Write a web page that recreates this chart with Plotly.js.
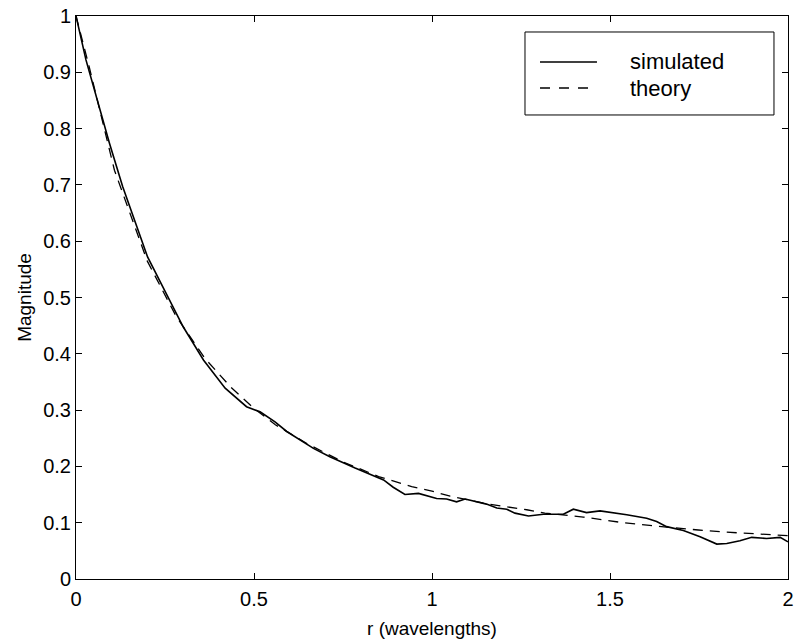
<!DOCTYPE html>
<html>
<head>
<meta charset="utf-8">
<script src="https://cdn.plot.ly/plotly-3.0.1.min.js"></script>
<style>html,body{margin:0;padding:0;background:#fff;}#chart{width:799px;height:642px;}</style>
</head>
<body>
<div id="chart"></div>
<script>
// Simulated magnitude vs r (wavelengths)
const simR = [0, 0.028, 0.094, 0.131, 0.201, 0.278, 0.301, 0.358, 0.419, 0.479, 0.517, 0.559, 0.592, 0.667, 0.713, 0.784, 0.835, 0.864, 0.891, 0.924, 0.962, 1.013, 1.041, 1.069, 1.093, 1.116, 1.153, 1.182, 1.210, 1.233, 1.271, 1.313, 1.369, 1.397, 1.434, 1.472, 1.509, 1.547, 1.603, 1.631, 1.659, 1.706, 1.753, 1.800, 1.828, 1.865, 1.898, 1.940, 1.978, 2.0];
const simV = [1.0, 0.922, 0.774, 0.697, 0.572, 0.478, 0.448, 0.389, 0.339, 0.306, 0.297, 0.279, 0.262, 0.232, 0.217, 0.197, 0.183, 0.176, 0.163, 0.150, 0.152, 0.143, 0.142, 0.137, 0.142, 0.139, 0.133, 0.126, 0.124, 0.117, 0.112, 0.115, 0.115, 0.124, 0.118, 0.121, 0.118, 0.114, 0.108, 0.102, 0.093, 0.086, 0.075, 0.062, 0.063, 0.068, 0.074, 0.072, 0.074, 0.066];
// Theory curve
const thR = [0, 0.037, 0.108, 0.2, 0.28, 0.362, 0.433, 0.5, 0.56, 0.65, 0.75, 0.85, 0.943, 1.0, 1.051, 1.158, 1.266, 1.317, 1.425, 1.537, 1.645, 1.748, 1.86, 1.968, 2.0];
const thV = [1, 0.91, 0.726, 0.565, 0.468, 0.392, 0.342, 0.303, 0.274, 0.24, 0.208, 0.182, 0.164, 0.156, 0.147, 0.133, 0.123, 0.117, 0.110, 0.100, 0.093, 0.087, 0.082, 0.078, 0.077];
const xTicks = [0, 0.5, 1, 1.5, 2];
const xTickText = ['0', '0.5', '1', '1.5', '2'];
const yTicks = [0, 0.1, 0.2, 0.3, 0.4, 0.5, 0.6, 0.7, 0.8, 0.9, 1];
const yTickText = ['0', '0.1', '0.2', '0.3', '0.4', '0.5', '0.6', '0.7', '0.8', '0.9', '1'];
const seriesNames = ['simulated', 'theory'];

const fam = 'Liberation Sans, Arial, Helvetica, sans-serif';
const tickFont = {family: fam, size: 20, color: '#000'};
const titleFont = {family: fam, size: 19, color: '#000'};
const legendFont = {family: fam, size: 22, color: '#000'};

const simLine = {color: '#000', width: 1.6};
const thLine = {color: '#000', width: 1.3, dash: '10px,7px'};

const traces = [
  {x: simR, y: simV, type: 'scatter', mode: 'lines', name: seriesNames[0], line: simLine, showlegend: false},
  {x: thR, y: thV, type: 'scatter', mode: 'lines', name: seriesNames[1], line: thLine, showlegend: false}
];

function axis(extra) {
  return Object.assign({
    showline: true, linecolor: '#000', linewidth: 1, mirror: 'ticks',
    ticks: 'inside', ticklen: 6, tickcolor: '#000', tickwidth: 1,
    showgrid: false, zeroline: false,
    tickfont: {family: fam, size: 20, color: '#000'}
  }, extra);
}

// legend box (MATLAB style), built from the series names
const legendShapes = [
  {type: 'rect', xref: 'paper', yref: 'paper', x0: 0.6306, x1: 0.9803, y0: 0.8242, y1: 0.9716,
   line: {color: '#000', width: 1}, fillcolor: '#fff', layer: 'above'},
  {type: 'line', xref: 'paper', yref: 'paper', x0: 0.6517, x1: 0.7317, y0: 0.9183, y1: 0.9183,
   line: {color: '#000', width: 1.6}, layer: 'above'},
  {type: 'line', xref: 'paper', yref: 'paper', x0: 0.6517, x1: 0.7317, y0: 0.8721, y1: 0.8721,
   line: {color: '#000', width: 1.3, dash: '10px,9px'}, layer: 'above'}
];
const legendText = [
  {xref: 'paper', yref: 'paper', x: 0.7753, y: 0.9183, xanchor: 'left', yanchor: 'middle',
   text: seriesNames[0], showarrow: false, font: legendFont},
  {xref: 'paper', yref: 'paper', x: 0.7753, y: 0.8721, xanchor: 'left', yanchor: 'middle',
   text: seriesNames[1], showarrow: false, font: legendFont}
];

const layout = {
  width: 799, height: 642,
  margin: {l: 76, r: 11, t: 16, b: 63},
  paper_bgcolor: '#fff', plot_bgcolor: '#fff',
  font: tickFont,
  showlegend: false,
  shapes: legendShapes,
  annotations: legendText,
  xaxis: axis({range: [0, 2], tickvals: xTicks, ticktext: xTickText,
           ticklabelstandoff: 2,
           title: {text: 'r (wavelengths)', font: titleFont, standoff: 12}}),
  yaxis: axis({range: [0, 1], tickvals: yTicks, ticktext: yTickText,
           title: {text: 'Magnitude', font: titleFont, standoff: 6}})
};

Plotly.newPlot('chart', traces, layout, {displayModeBar: false, staticPlot: true});
</script>
</body>
</html>
